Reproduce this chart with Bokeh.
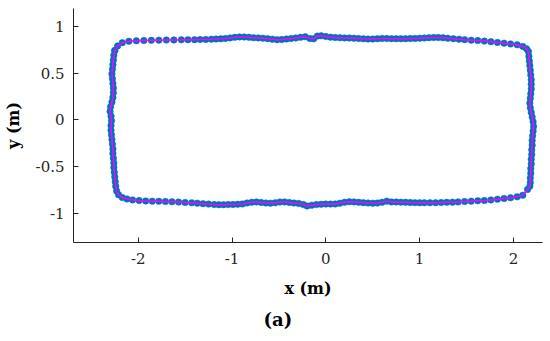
from bokeh.plotting import figure
from bokeh.models import FixedTicker, Range1d, Title
from bokeh.embed import file_html
from bokeh.resources import INLINE

# ---- data ----
top_x = [-2.25, -2.22, -2.17, -2.10, -2.02, -1.94, -1.86, -1.78, -1.70, -1.62, -1.54, -1.47,
         -1.40, -1.34, -1.28, -1.22, -1.17, -1.12, -1.07, -1.02, -0.97, -0.92, -0.87, -0.82,
         -0.77, -0.72, -0.67, -0.62, -0.57, -0.52, -0.47, -0.42, -0.37, -0.32, -0.27, -0.22,
         -0.17, -0.13, -0.09, -0.05, 0.00, 0.05, 0.10, 0.15, 0.20, 0.25, 0.30, 0.35, 0.40,
         0.45, 0.50, 0.55, 0.60, 0.65, 0.70, 0.75, 0.80, 0.85, 0.90, 0.95, 1.00, 1.05, 1.10,
         1.15, 1.20, 1.25, 1.30, 1.36, 1.42, 1.48, 1.55, 1.62, 1.69, 1.76, 1.83, 1.90, 1.97,
         2.04, 2.10, 2.14, 2.16]
top_y = [0.74, 0.79, 0.825, 0.84, 0.845, 0.848, 0.85, 0.852, 0.853, 0.854, 0.855, 0.856,
         0.857, 0.858, 0.86, 0.862, 0.864, 0.866, 0.87, 0.876, 0.882, 0.886, 0.885, 0.882,
         0.878, 0.876, 0.873, 0.868, 0.862, 0.857, 0.858, 0.864, 0.870, 0.875, 0.882, 0.888,
         0.870, 0.866, 0.895, 0.898, 0.890, 0.884, 0.880, 0.878, 0.876, 0.874, 0.872, 0.870,
         0.866, 0.863, 0.864, 0.868, 0.870, 0.870, 0.868, 0.867, 0.867, 0.868, 0.869, 0.870,
         0.872, 0.875, 0.878, 0.880, 0.880, 0.877, 0.872, 0.867, 0.862, 0.857, 0.852, 0.847,
         0.842, 0.836, 0.828, 0.820, 0.812, 0.802, 0.785, 0.760, 0.73]

right_x = [2.165, 2.17, 2.175, 2.18, 2.185, 2.19, 2.19, 2.19, 2.185, 2.18, 2.175, 2.18, 2.19,
           2.20, 2.21, 2.215, 2.21, 2.205, 2.20, 2.20, 2.195, 2.195, 2.19, 2.19, 2.185, 2.185,
           2.18, 2.18, 2.175]
right_y = [0.68, 0.63, 0.58, 0.53, 0.48, 0.43, 0.38, 0.33, 0.28, 0.23, 0.18, 0.13, 0.08,
           0.03, -0.02, -0.07, -0.12, -0.17, -0.22, -0.27, -0.32, -0.37, -0.42, -0.47, -0.52,
           -0.57, -0.62, -0.67, -0.71]

bottom_x = [2.15, 2.10, 2.04, 1.97, 1.90, 1.83, 1.76, 1.69, 1.62, 1.55, 1.48, 1.41, 1.35,
            1.29, 1.23, 1.17, 1.11, 1.05, 1.00, 0.95, 0.90, 0.85, 0.80, 0.75, 0.70, 0.65,
            0.60, 0.55, 0.50, 0.45, 0.40, 0.35, 0.30, 0.25, 0.20, 0.15, 0.10, 0.05, 0.00,
            -0.05, -0.10, -0.15, -0.20, -0.24, -0.29, -0.34, -0.39, -0.44, -0.49, -0.54,
            -0.59, -0.64, -0.69, -0.74, -0.79, -0.84, -0.89, -0.94, -0.99, -1.04, -1.09,
            -1.14, -1.19, -1.25, -1.31, -1.37, -1.43, -1.50, -1.57, -1.64, -1.71, -1.78,
            -1.85, -1.92, -1.99, -2.06, -2.12, -2.17, -2.21, -2.23]
bottom_y = [-0.745, -0.805, -0.822, -0.832, -0.840, -0.848, -0.855, -0.860, -0.864, -0.868,
            -0.872, -0.876, -0.879, -0.881, -0.883, -0.884, -0.885, -0.885, -0.885, -0.884,
            -0.883, -0.881, -0.879, -0.877, -0.876, -0.868, -0.880, -0.888, -0.890, -0.888,
            -0.884, -0.880, -0.876, -0.874, -0.880, -0.890, -0.898, -0.900, -0.900, -0.902,
            -0.905, -0.912, -0.920, -0.905, -0.892, -0.888, -0.882, -0.876, -0.878, -0.886,
            -0.890, -0.888, -0.882, -0.877, -0.880, -0.888, -0.898, -0.902, -0.904, -0.905,
            -0.906, -0.906, -0.905, -0.900, -0.895, -0.890, -0.886, -0.882, -0.878, -0.875,
            -0.872, -0.870, -0.868, -0.866, -0.862, -0.855, -0.845, -0.83, -0.80, -0.76]

left_x = [-2.24, -2.245, -2.25, -2.255, -2.26, -2.26, -2.265, -2.27, -2.27, -2.275, -2.28,
          -2.285, -2.29, -2.29, -2.285, -2.29, -2.30, -2.295, -2.28, -2.27, -2.265, -2.265,
          -2.27, -2.275, -2.28, -2.275, -2.27, -2.265, -2.26]
left_y = [-0.71, -0.66, -0.61, -0.56, -0.51, -0.46, -0.41, -0.36, -0.31, -0.26, -0.21, -0.16,
          -0.11, -0.06, -0.01, 0.04, 0.09, 0.14, 0.19, 0.24, 0.29, 0.34, 0.39, 0.44, 0.49,
          0.54, 0.59, 0.64, 0.69]

x_ticks = [-2, -1, 0, 1, 2]
y_ticks = [-1, -0.5, 0, 0.5, 1]
x_tick_labels = ["-2", "-1", "0", "1", "2"]
y_tick_labels = ["-1", "-0.5", "0", "0.5", "1"]
caption = "(a)"

xs = top_x + right_x + bottom_x + left_x + top_x[:1]
ys = top_y + right_y + bottom_y + left_y + top_y[:1]

SERIF = "DejaVu Serif"

p = figure(width=550, height=340, output_backend="svg", toolbar_location=None,
           x_range=Range1d(-2.69, 2.31), y_range=Range1d(-1.31, 1.19),
           min_border_left=73, min_border_right=8, min_border_top=8, min_border_bottom=98)
p.outline_line_color = None
p.xgrid.visible = False
p.ygrid.visible = False
p.background_fill_color = "white"
p.border_fill_color = "white"

p.scatter(xs, ys, size=6.5, fill_color="#0072BD", line_color="#0072BD", line_width=0.5)
p.line(xs, ys, line_color="#FF00FF", line_width=1.5)

for ax, ticks, labels in ((p.xaxis[0], x_ticks, x_tick_labels), (p.yaxis[0], y_ticks, y_tick_labels)):
    ax.ticker = FixedTicker(ticks=ticks)
    ax.major_label_overrides = {t: l for t, l in zip(ticks, labels)}
    ax.major_tick_in = 5
    ax.major_tick_out = 0
    ax.minor_tick_in = 0
    ax.minor_tick_out = 0
    ax.axis_line_color = "#262626"
    ax.major_tick_line_color = "#262626"
    ax.major_label_text_font = SERIF
    ax.major_label_text_font_size = "15px"
    ax.major_label_text_color = "#262626"
    ax.axis_label_text_font = SERIF
    ax.axis_label_text_font_size = "16px"
    ax.axis_label_text_font_style = "bold"
    ax.axis_label_text_color = "black"

p.xaxis.axis_label = "x (m)"
p.yaxis.axis_label = "y (m)"
p.xaxis.major_label_standoff = 10
p.yaxis.major_label_standoff = 9
p.xaxis.axis_label_standoff = 12
p.yaxis.axis_label_standoff = 10

p.add_layout(Title(text=caption, align="left", offset=190, standoff=12,
                   text_font=SERIF, text_font_size="18px", text_font_style="bold",
                   text_color="black"), "below")

open("out.html", "w").write(file_html(p, INLINE))
